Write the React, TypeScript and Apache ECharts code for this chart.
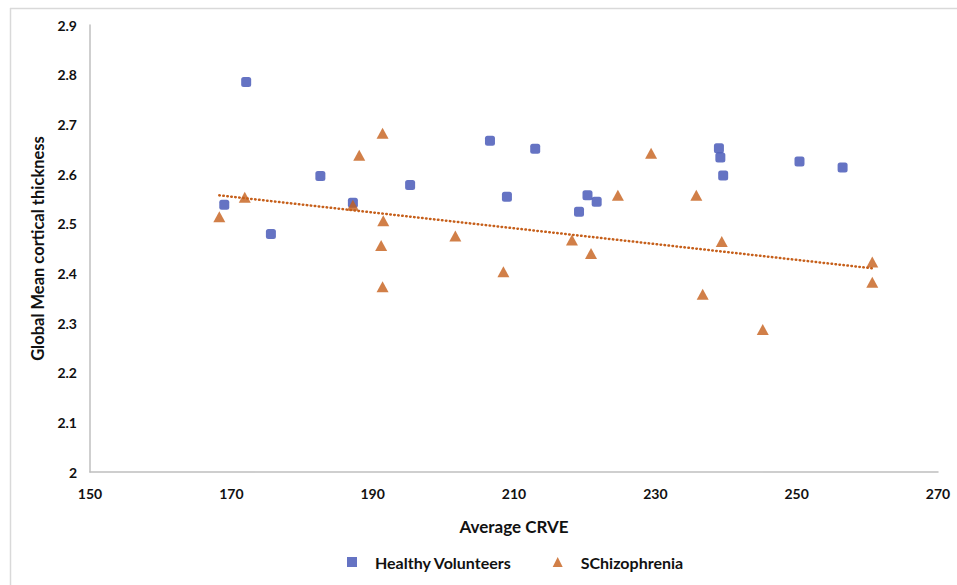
import React, { useEffect, useRef } from "react";
import * as echarts from "echarts";

const healthyX = [169.0, 172.1, 175.6, 182.6, 187.2, 195.3, 206.6, 209.0, 213.0, 219.2, 220.4, 221.7, 239.0, 239.2, 239.6, 250.4, 256.5];
const healthyY = [2.538, 2.785, 2.479, 2.596, 2.542, 2.578, 2.667, 2.554, 2.651, 2.524, 2.557, 2.544, 2.652, 2.633, 2.597, 2.625, 2.613];

const schizX = [168.3, 171.9, 187.2, 188.1, 191.4, 191.5, 191.2, 191.4, 201.7, 208.5, 218.2, 220.9, 224.7, 229.4, 235.8, 236.7, 239.4, 245.2, 260.7, 260.7];
const schizY = [2.514, 2.553, 2.537, 2.638, 2.682, 2.506, 2.456, 2.373, 2.475, 2.403, 2.467, 2.440, 2.557, 2.642, 2.557, 2.358, 2.464, 2.287, 2.423, 2.382];

const seriesNames = ["Healthy Volunteers", "SChizophrenia"];
const xTitle = "Average CRVE";
const yTitle = "Global Mean cortical thickness";

const BLUE = "#3E50B4";
const ORANGE = "#C65F1A";
const FONT = "Lato";
const TEXT = "#111111";

function linearFit(xs: number[], ys: number[]) {
  const n = xs.length;
  const mx = xs.reduce((a, b) => a + b, 0) / n;
  const my = ys.reduce((a, b) => a + b, 0) / n;
  let sxy = 0, sxx = 0;
  for (let i = 0; i < n; i++) {
    sxy += (xs[i] - mx) * (ys[i] - my);
    sxx += (xs[i] - mx) * (xs[i] - mx);
  }
  const slope = sxy / sxx;
  const intercept = my - slope * mx;
  const x0 = Math.min(...xs);
  const x1 = Math.max(...xs);
  return [
    [x0, intercept + slope * x0],
    [x1, intercept + slope * x1],
  ];
}

export default function App() {
  const ref = useRef<HTMLDivElement>(null);
  useEffect(() => {
    if (!ref.current) return;
    const chart = echarts.init(ref.current, undefined, { renderer: "svg" });
    const trend = linearFit(schizX, schizY);
    chart.setOption({
      animation: false,
      backgroundColor: "#ffffff",
      textStyle: { fontFamily: FONT },
      grid: { left: 90, right: 19, top: 25, bottom: 113, containLabel: false },
      graphic: [
        {
          type: "line",
          shape: { x1: 10, y1: 8.5, x2: 957, y2: 8.5 },
          style: { stroke: "#D9D9D9", lineWidth: 1.5 },
          silent: true,
        },
        {
          type: "line",
          shape: { x1: 10.5, y1: 8, x2: 10.5, y2: 585 },
          style: { stroke: "#D9D9D9", lineWidth: 1.5 },
          silent: true,
        },
      ],
      xAxis: {
        type: "value",
        min: 150,
        max: 270,
        interval: 20,
        name: xTitle,
        nameLocation: "middle",
        nameGap: 46,
        nameTextStyle: { fontFamily: FONT, fontWeight: "bold", fontSize: 17, color: TEXT },
        axisLine: { show: true, lineStyle: { color: "#BFBFBF", width: 1.5 } },
        axisTick: { show: false },
        splitLine: { show: false },
        axisLabel: { fontFamily: FONT, fontWeight: "bold", fontSize: 14, color: TEXT, margin: 14 },
      },
      yAxis: {
        type: "value",
        min: 2,
        max: 2.9,
        interval: 0.1,
        name: yTitle,
        nameLocation: "middle",
        nameGap: 40,
        nameRotate: 90,
        nameTextStyle: { fontFamily: FONT, fontWeight: "bold", fontSize: 16.5, color: TEXT },
        axisLine: { show: true, lineStyle: { color: "#BFBFBF", width: 1.5 } },
        axisTick: { show: false },
        splitLine: { show: false },
        axisLabel: {
          fontFamily: FONT,
          fontWeight: "bold",
          fontSize: 14,
          color: TEXT,
          margin: 13,
          formatter: (v: number) => String(Math.round(v * 10) / 10),
        },
      },
      legend: {
        data: [
          { name: seriesNames[0], icon: "rect" },
          { name: seriesNames[1], icon: "triangle" },
        ],
        left: 342,
        top: 549,
        itemWidth: 10,
        itemHeight: 10,
        itemGap: 41,
        textStyle: { fontFamily: FONT, fontWeight: "bold", fontSize: 16, color: TEXT, padding: [0, 0, 0, 13] },
      },
      series: [
        {
          name: seriesNames[0],
          type: "scatter",
          symbol: "roundRect",
          symbolSize: 10,
          itemStyle: { color: BLUE },
          data: healthyX.map((x, i) => [x, healthyY[i]]),
          z: 3,
        },
        {
          name: seriesNames[1],
          type: "scatter",
          symbol: "triangle",
          symbolSize: [12, 11],
          itemStyle: { color: ORANGE },
          data: schizX.map((x, i) => [x, schizY[i]]),
          z: 3,
        },
        {
          name: "trend",
          type: "line",
          data: trend,
          symbol: "none",
          lineStyle: { color: ORANGE, width: 2.5, type: [0.5, 3.5], cap: "round" },
          z: 2,
          silent: true,
        },
      ],
    });
    return () => chart.dispose();
  }, []);
  return (
    <div
      ref={ref}
      style={{ position: "fixed", left: 0, top: 0, width: 957, height: 585, background: "#fff" }}
    />
  );
}
